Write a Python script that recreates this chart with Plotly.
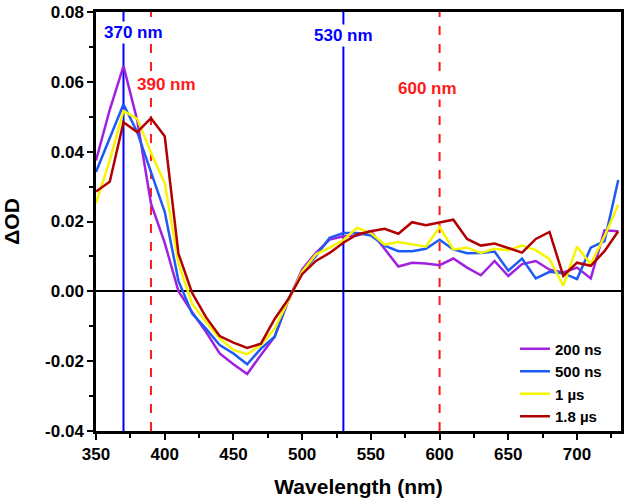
import plotly.graph_objects as go

wavelength = list(range(350, 731, 10))

od_200ns = [0.0375, 0.052, 0.0645, 0.049, 0.0252, 0.0139, 0.0, -0.006, -0.0116, -0.0178,
            -0.0209, -0.0237, -0.0182, -0.013, -0.0026, 0.0063, 0.011, 0.0148, 0.0158, 0.016,
            0.0172, 0.012, 0.0071, 0.0082, 0.008, 0.0075, 0.0094, 0.0068, 0.0046, 0.0087,
            0.0044, 0.0078, 0.0087, 0.0062, 0.0054, 0.0068, 0.0037, 0.0175, 0.0172]
od_500ns = [0.0342, 0.044, 0.0536, 0.0456, 0.0345, 0.0228, 0.003, -0.0064, -0.0107, -0.0154,
            -0.0178, -0.0209, -0.0164, -0.013, -0.0022, 0.0054, 0.0101, 0.0153, 0.0167, 0.0167,
            0.016, 0.0131, 0.0115, 0.0115, 0.0122, 0.0148, 0.012, 0.0109, 0.011, 0.0114,
            0.0059, 0.0094, 0.0037, 0.0056, 0.0052, 0.0035, 0.0125, 0.0144, 0.0319]
od_1us = [0.0252, 0.0375, 0.0517, 0.0494, 0.0397, 0.031, 0.008, -0.0036, -0.0088, -0.0135,
          -0.0168, -0.018, -0.0154, -0.0107, -0.0026, 0.0056, 0.0106, 0.0125, 0.0147, 0.0182,
          0.0167, 0.0134, 0.0141, 0.0134, 0.0128, 0.0184, 0.012, 0.0125, 0.011, 0.0122,
          0.0118, 0.0131, 0.0118, 0.0092, 0.0016, 0.0128, 0.0078, 0.0158, 0.0248]
od_1_8us = [0.0286, 0.0314, 0.0484, 0.0456, 0.0496, 0.0444, 0.0108, -0.0005, -0.0074, -0.0128,
            -0.0147, -0.0162, -0.015, -0.0079, -0.0022, 0.0049, 0.0087, 0.011, 0.0139, 0.0163,
            0.0172, 0.0179, 0.0165, 0.0198, 0.0189, 0.0198, 0.0205, 0.015, 0.0131, 0.0137,
            0.0125, 0.0111, 0.015, 0.017, 0.0044, 0.0082, 0.0073, 0.0115, 0.0172]

series_names = ["200 ns", "500 ns", "1 \u00b5s", "1.8 \u00b5s"]
series_values = [od_200ns, od_500ns, od_1us, od_1_8us]
series_colors = ["#A020E0", "#1E5BF5", "#F5F500", "#B00000"]

marker_nm = [370, 530, 390, 600]
marker_labels = ["370 nm", "530 nm", "390 nm", "600 nm"]
marker_colors = ["#0000FF", "#0000FF", "#FF1A1A", "#FF1A1A"]
marker_dash = ["solid", "solid", "dash", "dash"]
label_x = [377, 530, 401, 591]
label_y = [0.074, 0.0732, 0.0593, 0.058]

xtick_vals = list(range(350, 701, 50))
ytick_vals = [-0.04, -0.02, 0.0, 0.02, 0.04, 0.06, 0.08]

FONT = "Liberation Sans, Arial"

fig = go.Figure()
for name, vals, col in zip(series_names, series_values, series_colors):
    fig.add_trace(go.Scatter(x=wavelength, y=vals, mode="lines", name="<b>%s</b>" % name,
                             line=dict(color=col, width=2.5)))

for nm, col, dsh in zip(marker_nm, marker_colors, marker_dash):
    fig.add_shape(type="line", x0=nm, x1=nm, y0=0, y1=1, xref="x", yref="paper",
                  line=dict(color=col, width=2, dash=dsh), layer="below")

for lx, ly, lab, col in zip(label_x, label_y, marker_labels, marker_colors):
    fig.add_annotation(x=lx, y=ly, text="<b>%s</b>" % lab, showarrow=False,
                       font=dict(color=col, size=17, family=FONT),
                       bgcolor="white", borderpad=1)

axis_common = dict(showline=True, linecolor="black", linewidth=2.5, mirror=True,
                   ticks="outside", tickcolor="black", tickwidth=2, ticklen=6,
                   showgrid=False,
                   tickfont=dict(size=17, family=FONT, color="black"),
                   minor=dict(ticks="outside", ticklen=4, tickwidth=2, tickcolor="black",
                              showgrid=False))

fig.update_xaxes(range=[350, 732], tickvals=xtick_vals,
                 ticktext=["<b>%d</b>" % v for v in xtick_vals],
                 minor_dtick=25, minor_tick0=350,
                 title=dict(text="<b>Wavelength (nm)</b>", standoff=17,
                            font=dict(size=21, family=FONT, color="black")),
                 zeroline=False, **axis_common)
fig.update_yaxes(range=[-0.04, 0.08], tickvals=ytick_vals,
                 ticktext=["<b>%.2f</b>" % v for v in ytick_vals],
                 minor_dtick=0.01, minor_tick0=0,
                 title=dict(text="<b>\u0394OD</b>", standoff=24,
                            font=dict(size=21, family=FONT, color="black")),
                 zeroline=True, zerolinecolor="black", zerolinewidth=2, **axis_common)

fig.update_layout(width=624, height=500, margin=dict(l=96, r=3, t=12, b=69, autoexpand=False),
                  plot_bgcolor="white", paper_bgcolor="white",
                  font=dict(family=FONT, color="black"),
                  legend=dict(x=0.798, y=0.235, xanchor="left", yanchor="top",
                              bgcolor="rgba(0,0,0,0)", borderwidth=0,
                              font=dict(size=15, family=FONT, color="black"),
                              tracegroupgap=0))

fig.write_html("out.html", config={"displayModeBar": False},
               post_script="document.body.style.margin='0';")
